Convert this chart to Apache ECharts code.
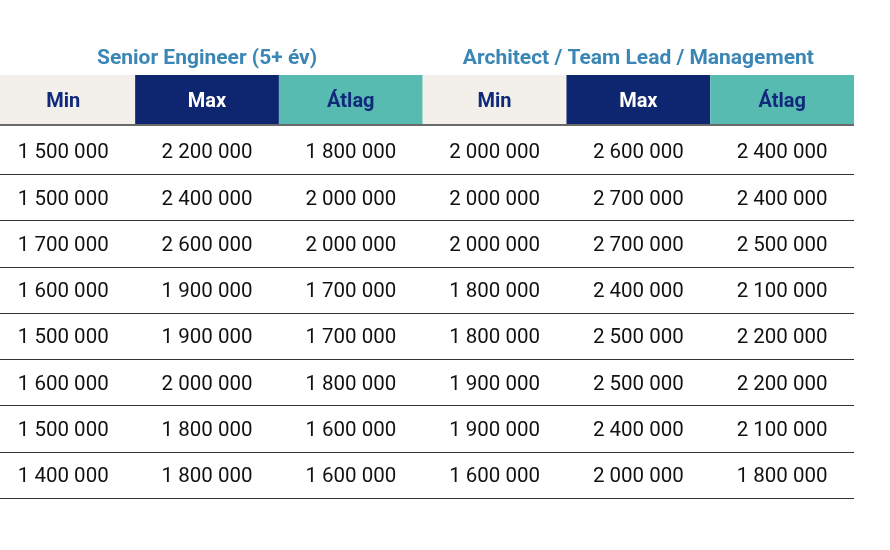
<!DOCTYPE html>
<html>
<head>
<meta charset="utf-8">
<script src="https://cdn.jsdelivr.net/npm/echarts@6/dist/echarts.min.js"></script>
<style>
  html, body { margin: 0; padding: 0; background: #fff; }
  #main { width: 890px; height: 550px; }
</style>
</head>
<body>
<div id="main"></div>
<script>
// oszlopok es csoportok
var columns = ['Min', 'Max', 'Átlag', 'Min', 'Max', 'Átlag'];
var groupTitles = ['Senior Engineer (5+ év)', 'Architect / Team Lead / Management'];
var rowIds = ['r1', 'r2', 'r3', 'r4', 'r5', 'r6', 'r7', 'r8'];

// Senior Engineer (5+ év)
var seniorMin = [1500000, 1500000, 1700000, 1600000, 1500000, 1600000, 1500000, 1400000];
var seniorMax = [2200000, 2400000, 2600000, 1900000, 1900000, 2000000, 1800000, 1800000];
var seniorAvg = [1800000, 2000000, 2000000, 1700000, 1700000, 1800000, 1600000, 1600000];

// Architect / Team Lead / Management
var archMin = [2000000, 2000000, 2000000, 1800000, 1800000, 1900000, 1900000, 1600000];
var archMax = [2600000, 2700000, 2700000, 2400000, 2500000, 2500000, 2400000, 2000000];
var archAvg = [2400000, 2400000, 2500000, 2100000, 2200000, 2200000, 2100000, 1800000];

var headerBg = ['#f3f0eb', '#0e2570', '#58bbb2', '#f3f0eb', '#0e2570', '#58bbb2'];
var headerFg = ['#10297a', '#ffffff', '#10297a', '#10297a', '#ffffff', '#10297a'];

function fmt(v) {
  return String(v).replace(/\B(?=(\d{3})+(?!\d))/g, ' ');
}

var cols = [seniorMin, seniorMax, seniorAvg, archMin, archMax, archAvg];
var bodyData = [];
cols.forEach(function (arr, c) {
  arr.forEach(function (v, r) {
    bodyData.push([c, r, v]);
  });
});
var headData = columns.map(function (name, c) {
  return [c, 0, name];
});
// csoportcim a Max oszlop folott
var titleData = groupTitles.map(function (t, i) {
  return [1 + i * 3, 0, t];
});

// az elso oszlop bal szele kicsit le van vagva
var xMin = -0.44, xMax = 5.5;

function xAxisBase(grid) {
  return {
    gridIndex: grid, type: 'value', min: xMin, max: xMax,
    axisLine: { show: false }, axisTick: { show: false }, axisLabel: { show: false }, splitLine: { show: false }
  };
}

var myChart = echarts.init(document.getElementById('main'));

var option = {
  animation: false,
  grid: [
    { left: 0, right: 36, top: 75, height: 50 },
    { left: 0, right: 36, top: 128, height: 370 }
  ],
  xAxis: [xAxisBase(0), xAxisBase(1)],
  yAxis: [
    {
      gridIndex: 0, type: 'category', data: ['head'],
      axisLine: { show: false }, axisTick: { show: false }, axisLabel: { show: false }, splitLine: { show: false }
    },
    {
      gridIndex: 1, type: 'category', data: rowIds, inverse: true,
      axisLine: { show: false }, axisTick: { show: false }, axisLabel: { show: false },
      splitLine: { show: true, showMinLine: false, lineStyle: { color: '#333333', width: 1 } }
    }
  ],
  series: [
    {
      type: 'custom',
      xAxisIndex: 0, yAxisIndex: 0,
      data: headData,
      z: 2,
      renderItem: function (params, api) {
        var c = api.value(0);
        var p = api.coord([c, 0]);
        var s = api.size([1, 1]);
        return {
          type: 'group',
          children: [
            {
              type: 'rect',
              shape: { x: p[0] - s[0] / 2, y: p[1] - s[1] / 2, width: s[0], height: s[1] },
              style: { fill: headerBg[c] }
            },
            {
              type: 'text',
              style: {
                text: columns[c], x: p[0], y: p[1] + 2,
                align: 'center', verticalAlign: 'middle',
                font: 'bold 20px Roboto', fill: headerFg[c]
              }
            }
          ]
        };
      }
    },
    {
      // csoportcimek es a fejlec alatti vonal
      type: 'custom',
      xAxisIndex: 0, yAxisIndex: 0,
      data: titleData,
      z: 3,
      renderItem: function (params, api) {
        var p = api.coord([api.value(0), 0]);
        var s = api.size([1, 1]);
        var left = api.coord([xMin, 0])[0];
        var right = api.coord([xMax, 0])[0];
        return {
          type: 'group',
          children: [
            {
              type: 'text',
              style: {
                text: groupTitles[params.dataIndex], x: p[0], y: p[1] - s[1] / 2 - 16,
                align: 'center', verticalAlign: 'middle',
                font: 'bold 21px Roboto', fill: '#3a86b4'
              }
            },
            {
              type: 'line',
              shape: { x1: left, y1: p[1] + s[1] / 2, x2: right, y2: p[1] + s[1] / 2 },
              style: { stroke: '#6a6a6a', lineWidth: 2 }
            }
          ]
        };
      }
    },
    {
      type: 'custom',
      xAxisIndex: 1, yAxisIndex: 1,
      data: bodyData,
      renderItem: function (params, api) {
        var p = api.coord([api.value(0), api.value(1)]);
        return {
          type: 'text',
          style: {
            text: fmt(api.value(2)), x: p[0], y: p[1] + 2,
            align: 'center', verticalAlign: 'middle',
            font: '20.5px Roboto', fill: '#111111'
          }
        };
      }
    }
  ]
};

myChart.setOption(option);
</script>
</body>
</html>
